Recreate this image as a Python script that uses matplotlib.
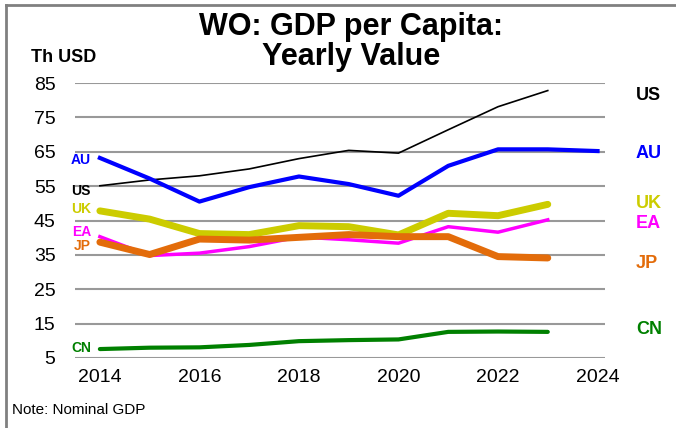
import matplotlib
matplotlib.use("Agg")
import matplotlib.pyplot as plt
from matplotlib.lines import Line2D

plt.rcParams['font.family'] = ['Liberation Sans', 'DejaVu Sans']

anos = [2014, 2015, 2016, 2017, 2018, 2019, 2020, 2021, 2022, 2023]
anos_au = [2014, 2015, 2016, 2017, 2018, 2019, 2020, 2021, 2022, 2023, 2024]

us = [55.1, 56.8, 58.0, 60.0, 63.0, 65.4, 64.6, 71.4, 78.1, 82.8]
au = [63.2, 57.2, 50.5, 54.7, 57.8, 55.6, 52.2, 60.9, 65.7, 65.7, 65.2]
uk = [47.8, 45.4, 41.2, 40.9, 43.5, 43.2, 40.8, 47.1, 46.4, 49.7]
ea = [40.3, 34.8, 35.5, 37.4, 40.2, 39.4, 38.4, 43.2, 41.6, 45.2]
jp = [38.7, 35.1, 39.6, 39.3, 40.1, 40.9, 40.3, 40.3, 34.5, 34.1]
cn = [7.6, 8.0, 8.1, 8.8, 9.9, 10.2, 10.4, 12.6, 12.7, 12.6]

yticks = [5, 15, 25, 35, 45, 55, 65, 75, 85]
xticks = [2014, 2016, 2018, 2020, 2022, 2024]

cores = {'US': '#000000', 'AU': '#0000FF', 'UK': '#CCCC00',
         'EA': '#FF00FF', 'JP': '#E36C0A', 'CN': '#008000'}

fig = plt.figure(figsize=(6.76, 4.28), dpi=100)
ax = fig.add_axes([75/676, 1-358/428, 530/676, 275/428])

ax.plot(anos, us, color=cores['US'], lw=1.2, zorder=3)
ax.plot(anos_au, au, color=cores['AU'], lw=3, zorder=4)
ax.plot(anos, uk, color=cores['UK'], lw=5, zorder=5, solid_capstyle='round')
ax.plot(anos, ea, color=cores['EA'], lw=2.5, zorder=6)
ax.plot(anos, jp, color=cores['JP'], lw=5, zorder=7, solid_capstyle='round')
ax.plot(anos, cn, color=cores['CN'], lw=3, zorder=4, solid_capstyle='round')

ax.set_xlim(2013.5, 2024.15)
ax.set_ylim(5, 85)
ax.set_yticks(yticks)
ax.set_xticks(xticks)
ax.yaxis.grid(True, color='#999999', lw=1.5)
ax.set_axisbelow(True)
for s in ax.spines.values():
    s.set_visible(False)
ax.tick_params(length=0, labelsize=14, colors='#000000')
ax.tick_params(axis='y', pad=14)
ax.tick_params(axis='x', pad=8)

# rotulos da direita
dir_y = {'US': 95, 'AU': 153, 'UK': 204, 'EA': 223, 'JP': 263, 'CN': 330}
for k, yp in dir_y.items():
    fig.text(636/676, 1-yp/428, k, color=cores[k], fontsize=13, fontweight='bold',
             ha='left', va='center')

# rotulos da esquerda
esq_y = {'AU': 159.5, 'US': 191, 'UK': 209.5, 'EA': 232, 'JP': 246.5, 'CN': 348}
for k, yp in esq_y.items():
    fig.text(91/676, 1-yp/428, k, color=cores[k], fontsize=10, fontweight='bold',
             ha='right', va='center')

fig.text(351/676, 1-27/428, 'WO: GDP per Capita:', fontsize=22, fontweight='bold',
         ha='center', va='center')
fig.text(351/676, 1-57/428, 'Yearly Value', fontsize=22, fontweight='bold',
         ha='center', va='center')
fig.text(31/676, 1-58/428, 'Th USD', fontsize=13, fontweight='bold', ha='left', va='center')
fig.text(12/676, 1-410/428, 'Note: Nominal GDP', fontsize=11, ha='left', va='center')

# moldura
fig.add_artist(Line2D([6/676, 6/676], [0, 1-5/428], color='#808080', lw=2))
fig.add_artist(Line2D([6/676, 1], [1-5/428, 1-5/428], color='#808080', lw=2))

fig.savefig('out.png', dpi=100)
